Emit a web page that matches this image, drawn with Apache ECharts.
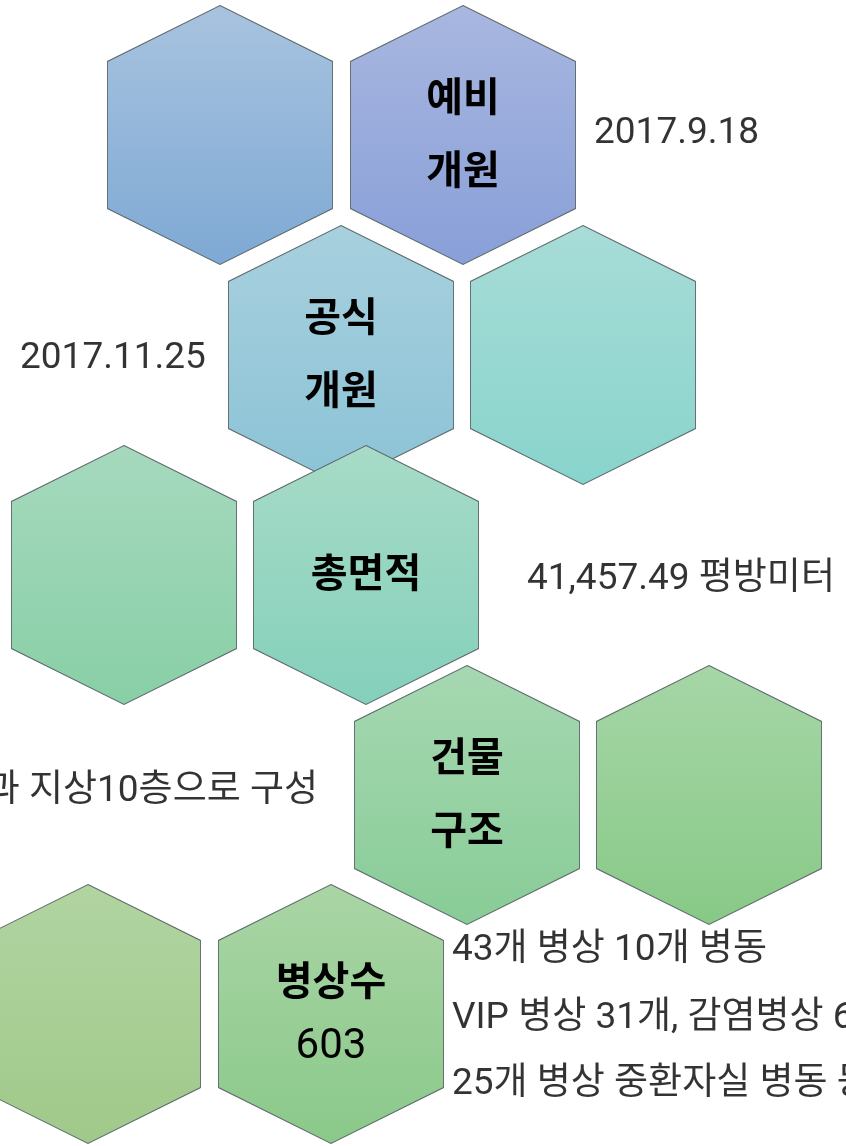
<!DOCTYPE html>
<html>
<head>
    <meta charset="utf-8">
    <title>Hexagon overview</title>
    <script src="https://cdn.jsdelivr.net/npm/echarts@6/dist/echarts.min.js"></script>
    <style>
        html, body { margin: 0; padding: 0; background: #fff; }
        #main { width: 846px; height: 1146px; }
    </style>
</head>
<body>
    <div id="main"></div>
    <script type="text/javascript">
        // hexagon centres (hidden axes, px-like units) and their captions
        var hexX = [220, 463, 341, 583, 124, 366, 467, 709, 88, 331];
        var hexY = [135, 135, 355, 355, 575, 575, 795, 795, 1014, 1014];
        var hexLabels = ['', '예비\n개원', '공식\n개원', '', '', '총면적', '건물\n구조', '', '', '병상수\n603'];
        var hexTop = ['#a8c3df', '#a9b7e0', '#a8d0de', '#a8dcd8', '#a6d9be', '#a7dbc7', '#a6d8b1', '#a6d6a7', '#b1d4a1', '#aad5a5'];
        var hexBottom = ['#7ea9d4', '#889fd8', '#8bc3d6', '#88d4cc', '#88cfa6', '#84d0bb', '#88cc97', '#88c987', '#a0c98a', '#8ac98a'];

        // side notes
        var noteText = ['2017.9.18', '2017.11.25', '41,457.49 평방미터', '지하2층과 지상10층으로 구성',
            '43개 병상 10개 병동', 'VIP 병상 31개, 감염병상 6개 병동', '25개 병상 중환자실 병동 등'];
        var noteX = [594, 20, 527, 318, 452, 452, 452];
        var noteY = [134, 359, 580, 792, 951, 1019, 1085];
        var noteAlign = ['left', 'left', 'left', 'right', 'left', 'left', 'left'];

        var FONT = 'Roboto, "Noto Sans CJK KR", sans-serif';
        var hexPath = 'path://M50 0 L100 21.6 L100 78.4 L50 100 L0 78.4 L0 21.6 Z';

        // korean lines a bit heavier, number lines regular
        function hexFormatter(text) {
            return text.split('\n').map(function (line) {
                return /^\d+$/.test(line) ? '{n|' + line + '}' : '{k|' + line + '}';
            }).join('\n');
        }

        var hexData = hexX.map(function (x, i) {
            var lh = hexLabels[i].indexOf('603') >= 0 ? 63 : 73;
            return {
                value: [x, hexY[i]],
                itemStyle: {
                    color: new echarts.graphic.LinearGradient(0, 0, 0, 1, [
                        { offset: 0, color: hexTop[i] },
                        { offset: 1, color: hexBottom[i] }
                    ])
                },
                label: {
                    formatter: hexFormatter(hexLabels[i]),
                    rich: {
                        k: { fontSize: 40, fontWeight: 'bold', lineHeight: lh, fontFamily: FONT, color: '#000' },
                        n: { fontSize: 42, fontWeight: 'normal', lineHeight: lh, fontFamily: FONT, color: '#000' }
                    }
                }
            };
        });

        var noteData = noteText.map(function (t, i) {
            return {
                value: [noteX[i], noteY[i]],
                label: {
                    formatter: t,
                    position: noteAlign[i] === 'left' ? 'right' : 'left'
                }
            };
        });

        var myChart = echarts.init(document.getElementById('main'));

        var option = {
            animation: false,
            grid: { left: 0, right: 0, top: 0, bottom: 0 },
            xAxis: { type: 'value', min: 0, max: 846, show: false },
            yAxis: { type: 'value', min: 0, max: 1146, inverse: true, show: false },
            series: [{
                name: 'hex',
                type: 'scatter',
                symbol: hexPath,
                symbolSize: [225, 259],
                itemStyle: { borderColor: '#5e6a6c', borderWidth: 1, opacity: 1 },
                label: {
                    show: true,
                    position: 'inside',
                    offset: [0, 2]
                },
                emphasis: { disabled: true },
                data: hexData
            }, {
                name: 'notes',
                type: 'scatter',
                symbolSize: 0,
                label: {
                    show: true,
                    distance: 0,
                    color: '#000',
                    fontSize: 37,
                    fontFamily: FONT
                },
                emphasis: { disabled: true },
                data: noteData
            }]
        };

        myChart.setOption(option);
    </script>
</body>
</html>
